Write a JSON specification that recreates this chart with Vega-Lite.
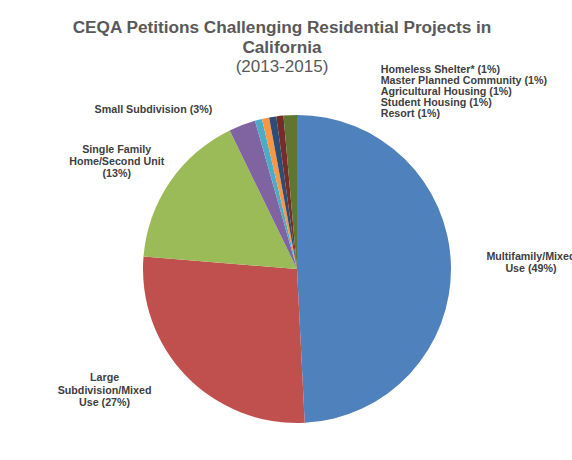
{
  "$schema": "https://vega.github.io/schema/vega-lite/v6.json",
  "width": 550,
  "height": 380,
  "padding": {"left": 22, "top": 18, "right": 0, "bottom": 0},
  "background": "white",
  "title": {
    "text": ["CEQA Petitions Challenging Residential Projects in", "California"],
    "subtitle": "(2013-2015)",
    "font": "Liberation Sans",
    "fontSize": 17.2,
    "fontWeight": "bold",
    "color": "#595959",
    "lineHeight": 20,
    "subtitleFont": "Liberation Sans",
    "subtitleFontSize": 17,
    "subtitleColor": "#595959",
    "subtitlePadding": 3,
    "offset": -10,
    "anchor": "middle",
    "dx": -15
  },
  "data": {
    "values": [
      {"i": 1, "category": "Multifamily/Mixed Use", "value": 49.2, "label": "Multifamily/Mixed\nUse (49%)"},
      {"i": 2, "category": "Large Subdivision/Mixed Use", "value": 27.1, "label": "Large\nSubdivision/Mixed\nUse (27%)"},
      {"i": 3, "category": "Single Family Home/Second Unit", "value": 16.5, "label": "Single Family\nHome/Second Unit\n(13%)"},
      {"i": 4, "category": "Small Subdivision", "value": 2.8, "label": "Small Subdivision (3%)"},
      {"i": 5, "category": "Resort", "value": 0.75, "label": "Resort (1%)"},
      {"i": 6, "category": "Student Housing", "value": 0.75, "label": "Student Housing (1%)"},
      {"i": 7, "category": "Agricultural Housing", "value": 0.75, "label": "Agricultural Housing (1%)"},
      {"i": 8, "category": "Master Planned Community", "value": 0.75, "label": "Master Planned Community (1%)"},
      {"i": 9, "category": "Homeless Shelter*", "value": 1.4, "label": "Homeless Shelter* (1%)"}
    ]
  },
  "encoding": {
    "theta": {"field": "value", "type": "quantitative", "stack": true},
    "order": {"field": "i", "type": "quantitative"}
  },
  "layer": [
    {
      "mark": {"type": "arc", "outerRadius": 154},
      "encoding": {
        "color": {
          "field": "category",
          "type": "nominal",
          "scale": {
            "domain": ["Multifamily/Mixed Use", "Large Subdivision/Mixed Use", "Single Family Home/Second Unit", "Small Subdivision", "Resort", "Student Housing", "Agricultural Housing", "Master Planned Community", "Homeless Shelter*"],
            "range": ["#4F81BD", "#C0504D", "#9BBB59", "#8064A2", "#4BACC6", "#F79646", "#2C4D75", "#772C2A", "#5F7530"]
          },
          "legend": {
            "orient": "none",
            "legendX": 348,
            "legendY": -14,
            "title": null,
            "values": ["Homeless Shelter*", "Master Planned Community", "Agricultural Housing", "Student Housing", "Resort"],
            "symbolSize": 0,
            "symbolOpacity": 0,
            "symbolStrokeWidth": 0,
            "labelOffset": 0,
            "padding": 0,
            "rowPadding": -2.7,
            "labelFont": "Liberation Sans",
            "labelFontWeight": "bold",
            "labelFontSize": 10.7,
            "labelColor": "#404040",
            "labelLimit": 300,
            "labelExpr": "datum.label + ' (1%)'"
          }
        }
      }
    },
    {
      "mark": {"type": "text", "clip": true, "radius": 234, "dy": -6, "font": "Liberation Sans", "fontWeight": "bold", "fontSize": 10.7, "color": "#404040", "lineBreak": "\n", "lineHeight": 12, "align": "center", "baseline": "middle"},
      "encoding": {
        "detail": {"field": "category"},
        "text": {"condition": {"test": "datum.i == 1", "field": "label"}, "value": ""}
      }
    },
    {
      "mark": {"type": "text", "clip": true, "radius": 222, "dx": -33, "dy": -45, "font": "Liberation Sans", "fontWeight": "bold", "fontSize": 10.7, "color": "#404040", "lineBreak": "\n", "lineHeight": 12.5, "align": "center", "baseline": "middle"},
      "encoding": {
        "detail": {"field": "category"},
        "text": {"condition": {"test": "datum.i == 2", "field": "label"}, "value": ""}
      }
    },
    {
      "mark": {"type": "text", "clip": true, "radius": 210, "dx": -7, "dy": 0, "font": "Liberation Sans", "fontWeight": "bold", "fontSize": 10.7, "color": "#404040", "lineBreak": "\n", "lineHeight": 12, "align": "center", "baseline": "middle"},
      "encoding": {
        "detail": {"field": "category"},
        "text": {"condition": {"test": "datum.i == 3", "field": "label"}, "value": ""}
      }
    },
    {
      "mark": {"type": "text", "clip": true, "radius": 179, "dx": -21, "dy": 8, "font": "Liberation Sans", "fontWeight": "bold", "fontSize": 10.7, "color": "#404040", "align": "right", "baseline": "middle"},
      "encoding": {
        "detail": {"field": "category"},
        "text": {"condition": {"test": "datum.i == 4", "field": "label"}, "value": ""}
      }
    }
  ],
  "config": {"view": {"stroke": null}}
}
